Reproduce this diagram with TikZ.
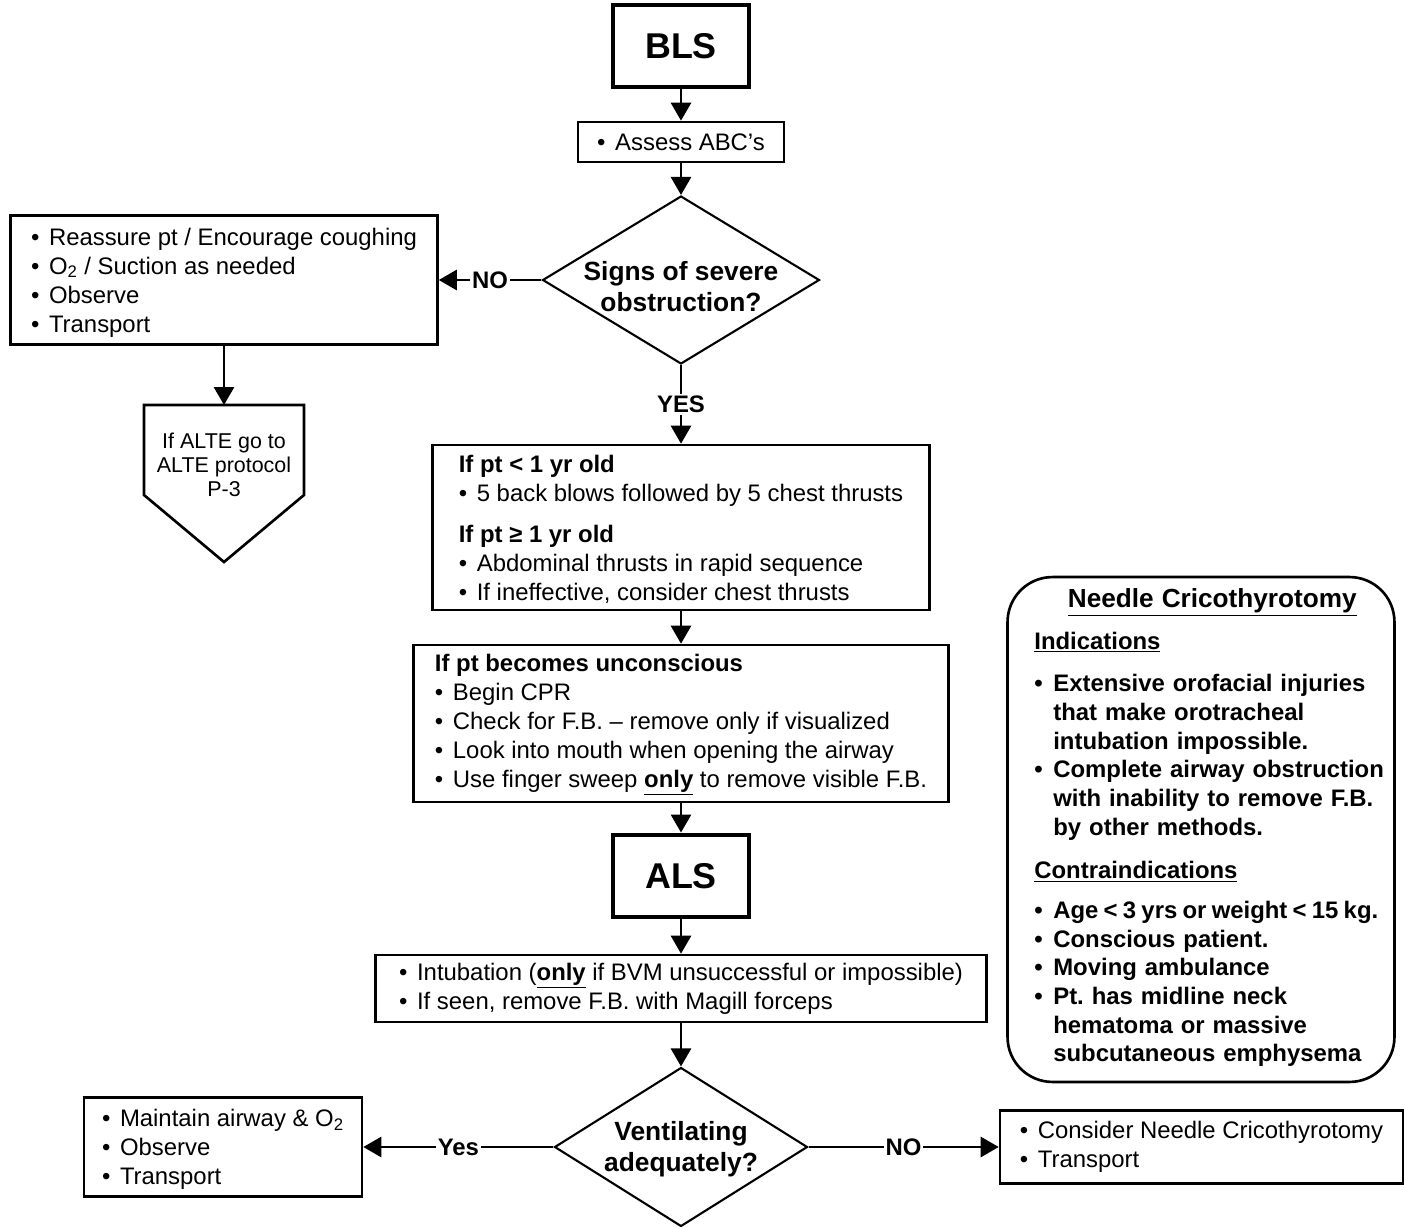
\documentclass[tikz,border=0pt]{standalone}
\usepackage{fontspec}
\setmainfont{Liberation Sans}
\usepackage{graphicx}
\usetikzlibrary{arrows.meta,positioning,shapes.geometric}

\newcommand{\bodyfont}{\fontsize{13.6}{16.5}\selectfont}
\newcommand{\bul}{\makebox[0.36cm][l]{•}}
\newcommand{\nl}{\hfil\break}
\newcommand{\crbul}[1]{\hangindent=0.38cm\hangafter=1\noindent\makebox[0.38cm][l]{•}#1\par}

\begin{document}
\begin{tikzpicture}[
  x=0.02cm, y=-0.02cm,
  every node/.style={font=\bodyfont},
  stepbox/.style={draw, line width=1.5pt, align=left, inner sep=0pt},
  bigbox/.style={draw, line width=2.8pt, minimum width=2.72cm, minimum height=1.64cm,
    font=\fontsize{20.4}{24}\selectfont\bfseries},
  decision/.style={draw, diamond, line width=1.2pt, inner sep=0pt},
  dtext/.style={align=center, font=\fontsize{15}{17.6}\selectfont\bfseries},
  flow/.style={-{Triangle[length=0.36cm, width=0.4cm]}, line width=1.6pt},
  lbl/.style={fill=white, inner sep=1pt, font=\bodyfont\bfseries},
]
\useasboundingbox (0,0) rectangle (1404,1227);

% main column
\node[bigbox] (bls) at (681,46) {BLS};
\node[stepbox, minimum width=4.12cm, minimum height=0.8cm] (assess) at (681,142)
  {\bul Assess ABC’s};
\node[decision, minimum width=5.54cm, minimum height=3.36cm,
  label={[dtext, yshift=-0.13cm]center:{Signs of severe\\obstruction?}}] (sev) at (681,280) {};
\node[stepbox, minimum width=9.94cm, minimum height=3.3cm, text depth=-2pt] (infant) at (681,527.5)
  {\textbf{If pt < 1 yr old}\\
   \bul 5 back blows followed by 5 chest thrusts\\[7pt]
   \textbf{If pt ≥ 1 yr old}\\
   \bul Abdominal thrusts in rapid sequence\\
   \bul If ineffective, consider chest thrusts};
\node[stepbox, minimum width=10.7cm, minimum height=3.14cm, text depth=3.3pt] (uncons) at (681,723.5)
  {\textbf{If pt becomes unconscious}\\
   \bul Begin CPR\\
   \bul Check for F.B. – remove only if visualized\\
   \bul Look into mouth when opening the airway\\
   \bul Use finger sweep \underline{\textbf{only}} to remove visible F.B.};
\node[bigbox] (als) at (681,876) {ALS};
\node[stepbox, minimum width=12.22cm, minimum height=1.34cm] (intub) at (681,988.5)
  {\bul Intubation (\underline{\textbf{only}} if BVM unsuccessful or impossible)\\
   \bul If seen, remove F.B. with Magill forceps};
\node[decision, minimum width=5.06cm, minimum height=3.18cm,
  label={[dtext, yshift=-0.04cm]center:{Ventilating\\adequately?}}] (vent) at (681,1147) {};

% side branches
\node[stepbox, minimum width=8.54cm, minimum height=2.58cm, text depth=-0.5pt] (reassure) at (224,280)
  {\bul Reassure pt / Encourage coughing\\
   \bul O\textsubscript{2} / Suction as needed\\
   \bul Observe\\
   \bul Transport};
\coordinate (altetop) at (224,405);
\draw[line width=1.5pt] (altetop) ++(-80,0) -- ++(160,0) -- ++(0,90) -- ++(-80,67)
  -- ++(-80,-67) -- cycle;
\node[align=center, font=\fontsize{12.2}{13.7}\selectfont] (alte) at (224,465)
  {If ALTE go to\\ALTE protocol\\P-3};
\node[stepbox, minimum width=5.56cm, minimum height=1.98cm, text depth=0pt] (maintain) at (223,1147)
  {\bul Maintain airway \& O\textsubscript{2}\\
   \bul Observe\\
   \bul Transport};
\node[stepbox, minimum width=8.06cm, minimum height=1.46cm] (consider) at (1201.5,1147)
  {\bul Consider Needle Cricothyrotomy\\
   \bul Transport};

% needle cricothyrotomy panel
\node[draw, line width=1.5pt, rounded corners=0.9cm, minimum width=7.74cm,
  minimum height=10.1cm] (crico) at (1201,829.5) {};
\node[anchor=north west, text width=7.3cm, inner sep=0pt,
  font=\fontsize{13.6}{16.3}\selectfont\bfseries]
  (critxt) at (1034,588) {\parindent=0pt\parskip=0pt
  {\centering\fontsize{14.9}{16.3}\selectfont\underline{Needle Cricothyrotomy}\hspace*{0.18cm}\par}
  \vspace{7.5pt}
  \underline{Indications}\par
  \vspace{8pt}
  \crbul{Extensive orofacial injuries\nl that make orotracheal\nl intubation impossible.}
  \crbul{Complete airway obstruction\nl with inability to remove F.B.\nl by other methods.}
  \vspace{8.5pt}
  \underline{Contraindications}\par
  \vspace{6.5pt}
  \crbul{\mbox{\spaceskip=0.22em Age < 3 yrs or weight < 15 kg.}}
  \crbul{Conscious patient.}
  \crbul{Moving ambulance}
  \crbul{Pt.\ has midline neck\nl hematoma or massive\nl subcutaneous emphysema}};

% connectors
\draw[flow] (bls) -- (assess);
\draw[flow] (assess) -- (sev);
\draw[flow] (sev) -- node[lbl] {NO} (reassure);
\draw[flow] (reassure) -- (altetop);
\draw[flow] (sev) -- node[lbl] {YES} (infant);
\draw[flow] (infant) -- (uncons);
\draw[flow] (uncons) -- (als);
\draw[flow] (als) -- (intub);
\draw[flow] (intub) -- (vent);
\draw[flow] (vent) -- node[lbl] {Yes} (maintain);
\draw[flow] (vent) -- node[lbl] {NO} (consider);
\end{tikzpicture}
\end{document}
